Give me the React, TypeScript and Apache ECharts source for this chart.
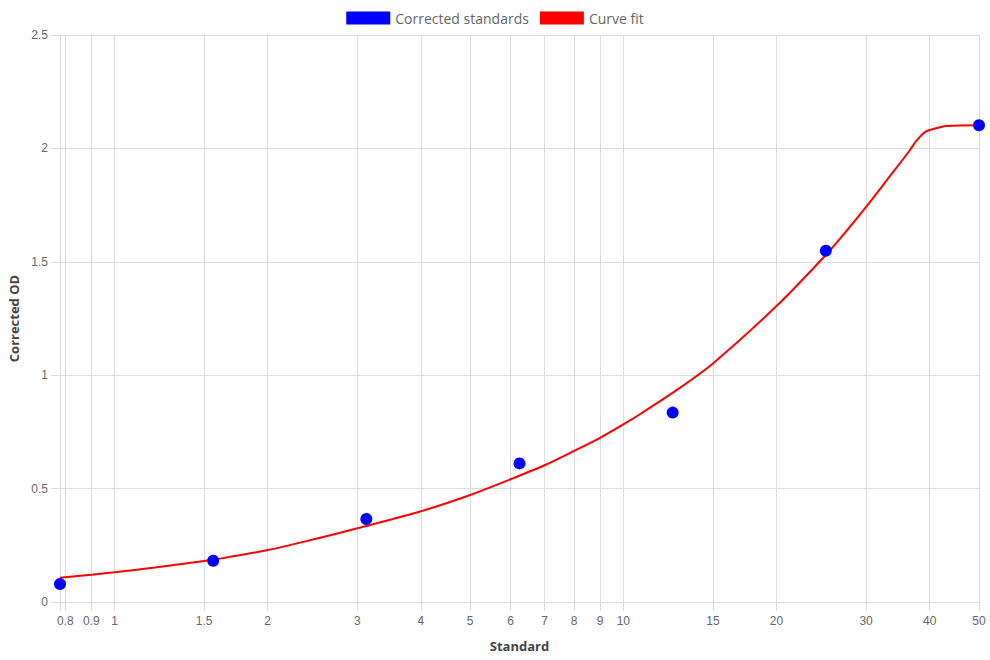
import React, { useEffect, useRef } from "react";
import * as echarts from "echarts";

// Standard concentrations and their corrected optical densities
const standards = [0.78125, 1.5625, 3.125, 6.25, 12.5, 25, 50];
const correctedOD = [0.079, 0.182, 0.366, 0.611, 0.835, 1.549, 2.102];

// Fitted curve sampled along the concentration range
const fitX = [
  0.78125, 0.9, 1, 1.2, 1.5, 1.5625, 2, 2.5, 3, 4, 5, 6, 7, 8, 9, 10, 10.8,
  12.74, 15, 20, 25, 27.5, 30, 32.9, 36.6, 37.4, 38.3, 39.1, 40, 43.2, 50,
];
const fitY = [
  0.107, 0.12, 0.131, 0.152, 0.181, 0.186, 0.229, 0.28, 0.325, 0.4, 0.472,
  0.541, 0.603, 0.666, 0.724, 0.783, 0.829, 0.935, 1.052, 1.305, 1.53, 1.638,
  1.742, 1.858, 1.993, 2.025, 2.052, 2.071, 2.081, 2.099, 2.102,
];

// Log-axis grid positions and the labelled subset
const xTickValues = [
  0.78125, 0.8, 0.9, 1, 1.5, 2, 3, 4, 5, 6, 7, 8, 9, 10, 15, 20, 30, 40, 50,
];
const xLabelValues = [0.8, 0.9, 1, 1.5, 2, 3, 4, 5, 6, 7, 8, 9, 10, 15, 20, 30, 40, 50];

const GRID = "#dcdcdc";
const TICK_FONT = "Liberation Sans, Arial, sans-serif";
const TITLE_FONT = "Open Sans, Lato, sans-serif";

export default function App() {
  const ref = useRef<HTMLDivElement>(null);

  useEffect(() => {
    if (!ref.current) return;
    const chart = echarts.init(ref.current, null, { renderer: "svg" });
    chart.setOption({
      animation: false,
      backgroundColor: "#ffffff",
      legend: {
        top: 6,
        left: "center",
        icon: "rect",
        itemWidth: 44,
        itemHeight: 13,
        itemGap: 11,
        data: ["Corrected standards", "Curve fit"],
        textStyle: { color: "#666", fontSize: 14, fontFamily: TITLE_FONT },
      },
      grid: {
        left: 60,
        right: 11,
        top: 35,
        bottom: 58,
        containLabel: false,
        outerBoundsMode: "none",
      },
      xAxis: {
        type: "log",
        logBase: 10,
        min: 0.78125,
        max: 50,
        name: "Standard",
        nameLocation: "middle",
        nameGap: 37,
        nameTextStyle: {
          color: "#444",
          fontSize: 13,
          fontWeight: "bold",
          fontFamily: TITLE_FONT,
        },
        axisLine: { show: true, lineStyle: { color: GRID } },
        axisTick: {
          show: true,
          length: 9,
          customValues: xTickValues,
          lineStyle: { color: GRID },
        },
        axisLabel: {
          customValues: xLabelValues,
          formatter: (v: number) => String(v),
          color: "#666",
          fontSize: 12,
          fontFamily: TICK_FONT,
          margin: 13,
        },
        splitLine: { show: true, lineStyle: { color: GRID } },
        minorTick: { show: false },
      },
      yAxis: {
        type: "value",
        min: 0,
        max: 2.5,
        interval: 0.5,
        name: "Corrected OD",
        nameLocation: "middle",
        nameGap: 40,
        nameTextStyle: {
          color: "#444",
          fontSize: 13,
          fontWeight: "bold",
          fontFamily: TITLE_FONT,
        },
        axisLine: { show: true, lineStyle: { color: GRID } },
        axisTick: { show: true, length: 9, lineStyle: { color: GRID } },
        axisLabel: {
          color: "#666",
          fontSize: 12,
          fontFamily: TICK_FONT,
          margin: 12,
        },
        splitLine: { show: true, lineStyle: { color: GRID } },
      },
      series: [
        {
          name: "Corrected standards",
          type: "scatter",
          data: standards.map((x, i) => [x, correctedOD[i]]),
          symbolSize: 12,
          itemStyle: { color: "#0000ff", opacity: 1 },
          z: 3,
        },
        {
          name: "Curve fit",
          type: "line",
          data: fitX.map((x, i) => [x, fitY[i]]),
          showSymbol: false,
          smooth: 0.3,
          lineStyle: { color: "#ff0000", width: 2 },
          itemStyle: { color: "#ff0000" },
          z: 2,
        },
      ],
    });
    return () => chart.dispose();
  }, []);

  return (
    <div
      ref={ref}
      style={{ position: "absolute", left: 0, top: 0, width: 990, height: 660 }}
    />
  );
}
